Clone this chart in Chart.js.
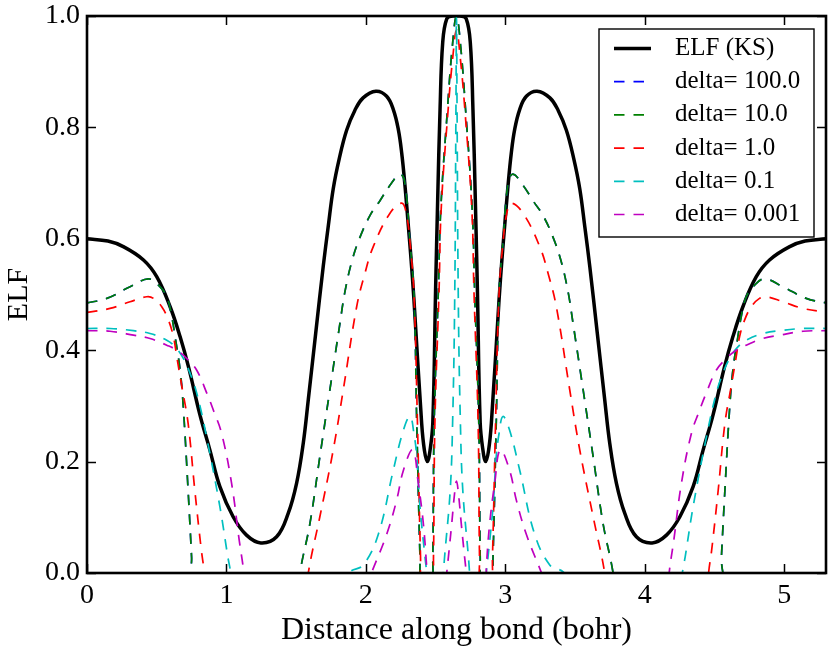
<!DOCTYPE html>
<html>
<head>
<meta charset="utf-8">
<script src="https://cdn.jsdelivr.net/npm/chart.js@4.4.0/dist/chart.umd.min.js"></script>
<style>
  html, body { margin: 0; padding: 0; background: #fff; }
  #wrap { width: 831px; height: 654px; }
</style>
</head>
<body>
<div id="wrap"><canvas id="elf-chart"></canvas></div>
<script>
// values: [distance (bohr), ELF]
const elfKs = [
  [0, 0.600], [0.15, 0.596], [0.26, 0.586], [0.405, 0.562], [0.50, 0.532], [0.596, 0.478],
  [0.668, 0.424], [0.728, 0.370], [0.81, 0.284], [0.881, 0.221], [0.953, 0.155], [1.048, 0.101],
  [1.144, 0.068], [1.247, 0.054], [1.36, 0.065], [1.443, 0.107], [1.503, 0.161], [1.551, 0.233],
  [1.587, 0.311], [1.64, 0.43], [1.694, 0.55], [1.73, 0.622], [1.766, 0.69], [1.81, 0.745],
  [1.862, 0.795], [1.92, 0.83], [1.98, 0.853], [2.072, 0.865], [2.149, 0.856], [2.197, 0.832],
  [2.233, 0.796], [2.257, 0.754], [2.281, 0.694], [2.305, 0.622], [2.322, 0.57], [2.345, 0.49],
  [2.40, 0.269], [2.42, 0.22], [2.441, 0.20], [2.46, 0.22], [2.48, 0.269], [2.50, 0.508],
  [2.515, 0.67], [2.532, 0.832], [2.551, 0.952], [2.58, 0.995], [2.62, 1.0], [2.65, 1.0],
  [2.68, 1.0], [2.72, 0.995], [2.749, 0.952], [2.768, 0.832], [2.785, 0.67], [2.80, 0.508],
  [2.82, 0.269], [2.84, 0.22], [2.859, 0.20], [2.88, 0.22], [2.90, 0.269], [2.955, 0.49],
  [2.978, 0.57], [2.995, 0.622], [3.019, 0.694], [3.043, 0.754], [3.067, 0.796], [3.103, 0.832],
  [3.151, 0.856], [3.228, 0.865], [3.32, 0.853], [3.38, 0.83], [3.438, 0.795], [3.49, 0.745],
  [3.534, 0.69], [3.57, 0.622], [3.606, 0.55], [3.66, 0.43], [3.713, 0.311], [3.749, 0.233],
  [3.797, 0.161], [3.857, 0.107], [3.94, 0.065], [4.053, 0.054], [4.156, 0.068], [4.252, 0.101],
  [4.347, 0.155], [4.419, 0.221], [4.49, 0.284], [4.572, 0.370], [4.632, 0.424], [4.704, 0.478],
  [4.80, 0.532], [4.895, 0.562], [5.04, 0.586], [5.15, 0.596], [5.3, 0.600]
];

const delta100 = [
  [0, 0.485], [0.142, 0.493], [0.309, 0.514], [0.44, 0.528], [0.512, 0.517], [0.572, 0.496],
  [0.608, 0.46], [0.632, 0.424], [0.668, 0.364], [0.69, 0.30], [0.725, 0.149], [0.75, 0.029],
  [0.765, -0.05], [1.51, -0.05], [1.527, 0.0], [1.599, 0.089], [1.67, 0.209], [1.742, 0.329],
  [1.814, 0.448], [1.85, 0.505], [1.90, 0.56], [1.958, 0.603], [2.03, 0.642], [2.10, 0.668],
  [2.173, 0.696], [2.245, 0.716], [2.28, 0.70], [2.317, 0.592], [2.345, 0.50], [2.365, 0.269],
  [2.388, 0.029], [2.40, -0.05], [2.47, -0.05], [2.48, 0.029], [2.49, 0.269], [2.52, 0.508],
  [2.537, 0.652], [2.585, 0.832], [2.62, 0.945], [2.65, 1.0], [2.68, 0.945], [2.715, 0.832],
  [2.763, 0.652], [2.78, 0.508], [2.81, 0.269], [2.82, 0.029], [2.83, -0.05], [2.90, -0.05],
  [2.912, 0.029], [2.935, 0.269], [2.955, 0.50], [2.983, 0.592], [3.02, 0.70], [3.055, 0.716],
  [3.127, 0.696], [3.20, 0.668], [3.27, 0.642], [3.342, 0.603], [3.40, 0.56], [3.45, 0.505],
  [3.486, 0.448], [3.558, 0.329], [3.63, 0.209], [3.701, 0.089], [3.773, 0.0], [3.79, -0.05],
  [4.535, -0.05], [4.55, 0.029], [4.575, 0.149], [4.61, 0.30], [4.632, 0.364], [4.668, 0.424],
  [4.692, 0.46], [4.728, 0.496], [4.788, 0.517], [4.86, 0.528], [4.991, 0.514], [5.158, 0.493],
  [5.3, 0.485]
];

const delta10 = [
  [0, 0.485], [0.142, 0.493], [0.309, 0.514], [0.44, 0.528], [0.512, 0.517], [0.572, 0.496],
  [0.608, 0.46], [0.632, 0.424], [0.668, 0.364], [0.69, 0.30], [0.725, 0.149], [0.75, 0.029],
  [0.765, -0.05], [1.51, -0.05], [1.527, 0.0], [1.599, 0.089], [1.67, 0.209], [1.742, 0.329],
  [1.814, 0.448], [1.85, 0.505], [1.90, 0.56], [1.958, 0.603], [2.03, 0.642], [2.10, 0.668],
  [2.173, 0.696], [2.245, 0.716], [2.28, 0.70], [2.317, 0.592], [2.345, 0.50], [2.365, 0.269],
  [2.388, 0.029], [2.40, -0.05], [2.47, -0.05], [2.48, 0.029], [2.49, 0.269], [2.52, 0.508],
  [2.537, 0.652], [2.585, 0.832], [2.62, 0.945], [2.65, 1.0], [2.68, 0.945], [2.715, 0.832],
  [2.763, 0.652], [2.78, 0.508], [2.81, 0.269], [2.82, 0.029], [2.83, -0.05], [2.90, -0.05],
  [2.912, 0.029], [2.935, 0.269], [2.955, 0.50], [2.983, 0.592], [3.02, 0.70], [3.055, 0.716],
  [3.127, 0.696], [3.20, 0.668], [3.27, 0.642], [3.342, 0.603], [3.40, 0.56], [3.45, 0.505],
  [3.486, 0.448], [3.558, 0.329], [3.63, 0.209], [3.701, 0.089], [3.773, 0.0], [3.79, -0.05],
  [4.535, -0.05], [4.55, 0.029], [4.575, 0.149], [4.61, 0.30], [4.632, 0.364], [4.668, 0.424],
  [4.692, 0.46], [4.728, 0.496], [4.788, 0.517], [4.86, 0.528], [4.991, 0.514], [5.158, 0.493],
  [5.3, 0.485]
];

const delta1 = [
  [0, 0.468], [0.165, 0.475], [0.309, 0.487], [0.429, 0.496], [0.477, 0.493], [0.536, 0.478],
  [0.584, 0.454], [0.62, 0.424], [0.644, 0.388], [0.68, 0.335], [0.725, 0.269], [0.773, 0.149],
  [0.82, 0.041], [0.842, 0.0], [0.855, -0.05], [1.57, -0.05], [1.587, 0.0], [1.67, 0.101],
  [1.766, 0.221], [1.838, 0.329], [1.934, 0.478], [1.99, 0.535], [2.053, 0.586], [2.173, 0.646],
  [2.257, 0.664], [2.29, 0.645], [2.317, 0.592], [2.345, 0.50], [2.37, 0.269], [2.392, 0.029],
  [2.405, -0.05], [2.475, -0.05], [2.485, 0.029], [2.495, 0.269], [2.525, 0.508], [2.54, 0.652],
  [2.59, 0.832], [2.625, 0.93], [2.65, 0.975], [2.675, 0.93], [2.71, 0.832], [2.76, 0.652],
  [2.775, 0.508], [2.805, 0.269], [2.815, 0.029], [2.825, -0.05], [2.895, -0.05], [2.908, 0.029],
  [2.93, 0.269], [2.955, 0.50], [2.983, 0.592], [3.01, 0.645], [3.043, 0.664], [3.127, 0.646],
  [3.247, 0.586], [3.31, 0.535], [3.366, 0.478], [3.462, 0.329], [3.534, 0.221], [3.63, 0.101],
  [3.713, 0.0], [3.73, -0.05], [4.445, -0.05], [4.458, 0.0], [4.48, 0.041], [4.527, 0.149],
  [4.575, 0.269], [4.62, 0.335], [4.656, 0.388], [4.68, 0.424], [4.716, 0.454], [4.764, 0.478],
  [4.823, 0.493], [4.871, 0.496], [4.991, 0.487], [5.135, 0.475], [5.3, 0.468]
];

const delta01 = [
  [0, 0.439], [0.165, 0.439], [0.333, 0.435], [0.452, 0.43], [0.572, 0.418], [0.632, 0.406],
  [0.692, 0.385], [0.74, 0.358], [0.787, 0.323], [0.857, 0.245], [0.953, 0.119], [1.01, 0.029],
  [1.03, 0.0], [1.045, -0.05], [1.80, -0.03], [1.885, 0.002], [1.98, 0.014], [2.09, 0.07],
  [2.197, 0.185], [2.27, 0.257], [2.317, 0.281], [2.345, 0.25], [2.365, 0.209], [2.388, 0.119],
  [2.424, 0.029], [2.436, 0.0], [2.445, -0.05], [2.54, -0.05], [2.556, 0.0], [2.565, 0.03],
  [2.605, 0.149], [2.622, 0.269], [2.637, 0.49], [2.646, 0.832], [2.65, 1.0], [2.654, 0.832],
  [2.663, 0.49], [2.678, 0.269], [2.695, 0.149], [2.735, 0.03], [2.744, 0.0], [2.76, -0.05],
  [2.855, -0.05], [2.864, 0.0], [2.876, 0.029], [2.912, 0.119], [2.935, 0.209], [2.955, 0.25],
  [2.983, 0.281], [3.03, 0.257], [3.103, 0.185], [3.21, 0.07], [3.32, 0.014], [3.415, 0.002],
  [3.50, -0.03], [4.255, -0.05], [4.27, 0.0], [4.29, 0.029], [4.347, 0.119], [4.443, 0.245],
  [4.513, 0.323], [4.56, 0.358], [4.608, 0.385], [4.668, 0.406], [4.728, 0.418], [4.848, 0.43],
  [4.967, 0.435], [5.135, 0.439], [5.3, 0.439]
];

const delta0001 = [
  [0, 0.435], [0.165, 0.434], [0.333, 0.427], [0.452, 0.421], [0.572, 0.409], [0.644, 0.40],
  [0.716, 0.385], [0.787, 0.364], [0.859, 0.323], [0.91, 0.29], [0.965, 0.251], [1.037, 0.161],
  [1.091, 0.06], [1.125, 0.0], [1.14, -0.05], [1.98, -0.04], [2.04, 0.0], [2.15, 0.07],
  [2.22, 0.13], [2.27, 0.185], [2.336, 0.221], [2.376, 0.161], [2.412, 0.089], [2.436, 0.011],
  [2.445, -0.03], [2.565, -0.05], [2.58, 0.0], [2.592, 0.029], [2.616, 0.089], [2.635, 0.14],
  [2.65, 0.165], [2.665, 0.14], [2.684, 0.089], [2.708, 0.029], [2.72, 0.0], [2.735, -0.05],
  [2.855, -0.03], [2.864, 0.011], [2.888, 0.089], [2.924, 0.161], [2.964, 0.221], [3.03, 0.185],
  [3.08, 0.13], [3.15, 0.07], [3.26, 0.0], [3.32, -0.04], [4.16, -0.05], [4.175, 0.0],
  [4.209, 0.06], [4.263, 0.161], [4.335, 0.251], [4.39, 0.29], [4.441, 0.323], [4.513, 0.364],
  [4.584, 0.385], [4.656, 0.40], [4.728, 0.409], [4.848, 0.421], [4.967, 0.427], [5.135, 0.434],
  [5.3, 0.435]
];

const seriesLabels = ['ELF (KS)', 'delta= 100.0', 'delta= 10.0', 'delta= 1.0', 'delta= 0.1', 'delta= 0.001'];
const xTicks = [0, 1, 2, 3, 4, 5];
const xTickLabels = ['0', '1', '2', '3', '4', '5'];
const yTicks = [0, 0.2, 0.4, 0.6, 0.8, 1.0];
const yTickLabels = ['0.0', '0.2', '0.4', '0.6', '0.8', '1.0'];

const SERIF = "'Liberation Serif', 'DejaVu Serif', serif";
const toPoints = (arr) => arr.map(p => ({ x: p[0], y: p[1] }));

function dashed(label, data, color, order) {
  return {
    label: label,
    data: toPoints(data),
    borderColor: color,
    borderWidth: 1.7,
    borderDash: [10.5, 9],
    order: order
  };
}

// frame, inward ticks on all four sides and the boxed legend in the upper right
const framePlugin = {
  id: 'framePlugin',
  afterDraw(chart) {
    const { ctx, chartArea: a, scales } = chart;
    ctx.save();
    ctx.strokeStyle = '#000';
    ctx.lineWidth = 1.5;
    ctx.beginPath();
    scales.x.ticks.forEach(t => {
      const px = Math.round(scales.x.getPixelForValue(t.value)) + 0.5;
      ctx.moveTo(px, a.bottom); ctx.lineTo(px, a.bottom - 9);
      ctx.moveTo(px, a.top); ctx.lineTo(px, a.top + 9);
    });
    scales.y.ticks.forEach(t => {
      const py = Math.round(scales.y.getPixelForValue(t.value)) + 0.5;
      ctx.moveTo(a.left, py); ctx.lineTo(a.left + 9, py);
      ctx.moveTo(a.right, py); ctx.lineTo(a.right - 9, py);
    });
    ctx.stroke();
    ctx.lineWidth = 2.6;
    ctx.strokeRect(a.left, a.top, a.right - a.left, a.bottom - a.top);

    // legend
    const bx = a.right - 227, by = a.top + 13, bw = 215, bh = 208;
    ctx.fillStyle = '#fff';
    ctx.fillRect(bx, by, bw, bh);
    ctx.lineWidth = 1.4;
    ctx.strokeRect(bx, by, bw, bh);
    ctx.font = '25px ' + SERIF;
    ctx.textBaseline = 'middle';
    ctx.textAlign = 'left';
    chart.data.datasets.forEach((ds, i) => {
      const ry = by + 19.5 + i * 33.2;
      ctx.beginPath();
      ctx.setLineDash(ds.borderDash || []);
      ctx.strokeStyle = ds.borderColor;
      ctx.lineWidth = ds.borderWidth;
      ctx.moveTo(bx + 15, ry);
      ctx.lineTo(bx + 52, ry);
      ctx.stroke();
      ctx.setLineDash([]);
      ctx.fillStyle = '#000';
      ctx.fillText(ds.label, bx + 76, ry);
    });
    ctx.restore();
  }
};

const ctx = document.getElementById('elf-chart').getContext('2d');
new Chart(ctx, {
  type: 'line',
  data: {
    datasets: [
      {
        label: seriesLabels[0],
        data: toPoints(elfKs),
        borderColor: '#000000',
        borderWidth: 3.5,
        order: 5
      },
      dashed(seriesLabels[1], delta100, '#0000ff', 4),
      dashed(seriesLabels[2], delta10, '#008000', 3),
      dashed(seriesLabels[3], delta1, '#ff0000', 2),
      dashed(seriesLabels[4], delta01, '#00bfbf', 1),
      dashed(seriesLabels[5], delta0001, '#bf00bf', 0)
    ]
  },
  options: {
    responsive: true,
    maintainAspectRatio: false,
    animation: false,
    events: [],
    clip: 0,
    layout: { padding: { top: 16, right: 5, left: 0, bottom: 0 } },
    elements: {
      point: { radius: 0 },
      line: { tension: 0.4, borderJoinStyle: 'round', fill: false }
    },
    plugins: { legend: { display: false }, tooltip: { enabled: false } },
    scales: {
      x: {
        type: 'linear',
        min: 0,
        max: 5.3,
        grid: { display: false, drawTicks: false },
        border: { display: false },
        afterBuildTicks: (scale) => { scale.ticks = xTicks.map(v => ({ value: v })); },
        afterFit: (scale) => { scale.height = 81; scale.paddingLeft = 0; scale.paddingRight = 0; },
        ticks: {
          includeBounds: false,
          padding: 6,
          color: '#000',
          font: { family: SERIF, size: 28 },
          callback: (v, i) => xTickLabels[i]
        },
        title: {
          display: true,
          text: 'Distance along bond (bohr)',
          color: '#000',
          font: { family: SERIF, size: 32 },
          padding: { top: 0, bottom: 4 }
        }
      },
      y: {
        type: 'linear',
        min: 0,
        max: 1,
        grid: { display: false, drawTicks: false },
        border: { display: false },
        afterBuildTicks: (scale) => { scale.ticks = yTicks.map(v => ({ value: v })); },
        afterFit: (scale) => { scale.width = 87; scale.paddingTop = 0; scale.paddingBottom = 0; },
        ticks: {
          padding: 7,
          color: '#000',
          font: { family: SERIF, size: 28 },
          callback: (v, i) => yTickLabels[i]
        },
        title: {
          display: true,
          text: 'ELF',
          color: '#000',
          font: { family: SERIF, size: 30 },
          padding: { top: 1, bottom: 0 }
        }
      }
    }
  },
  plugins: [framePlugin]
});
</script>
</body>
</html>
